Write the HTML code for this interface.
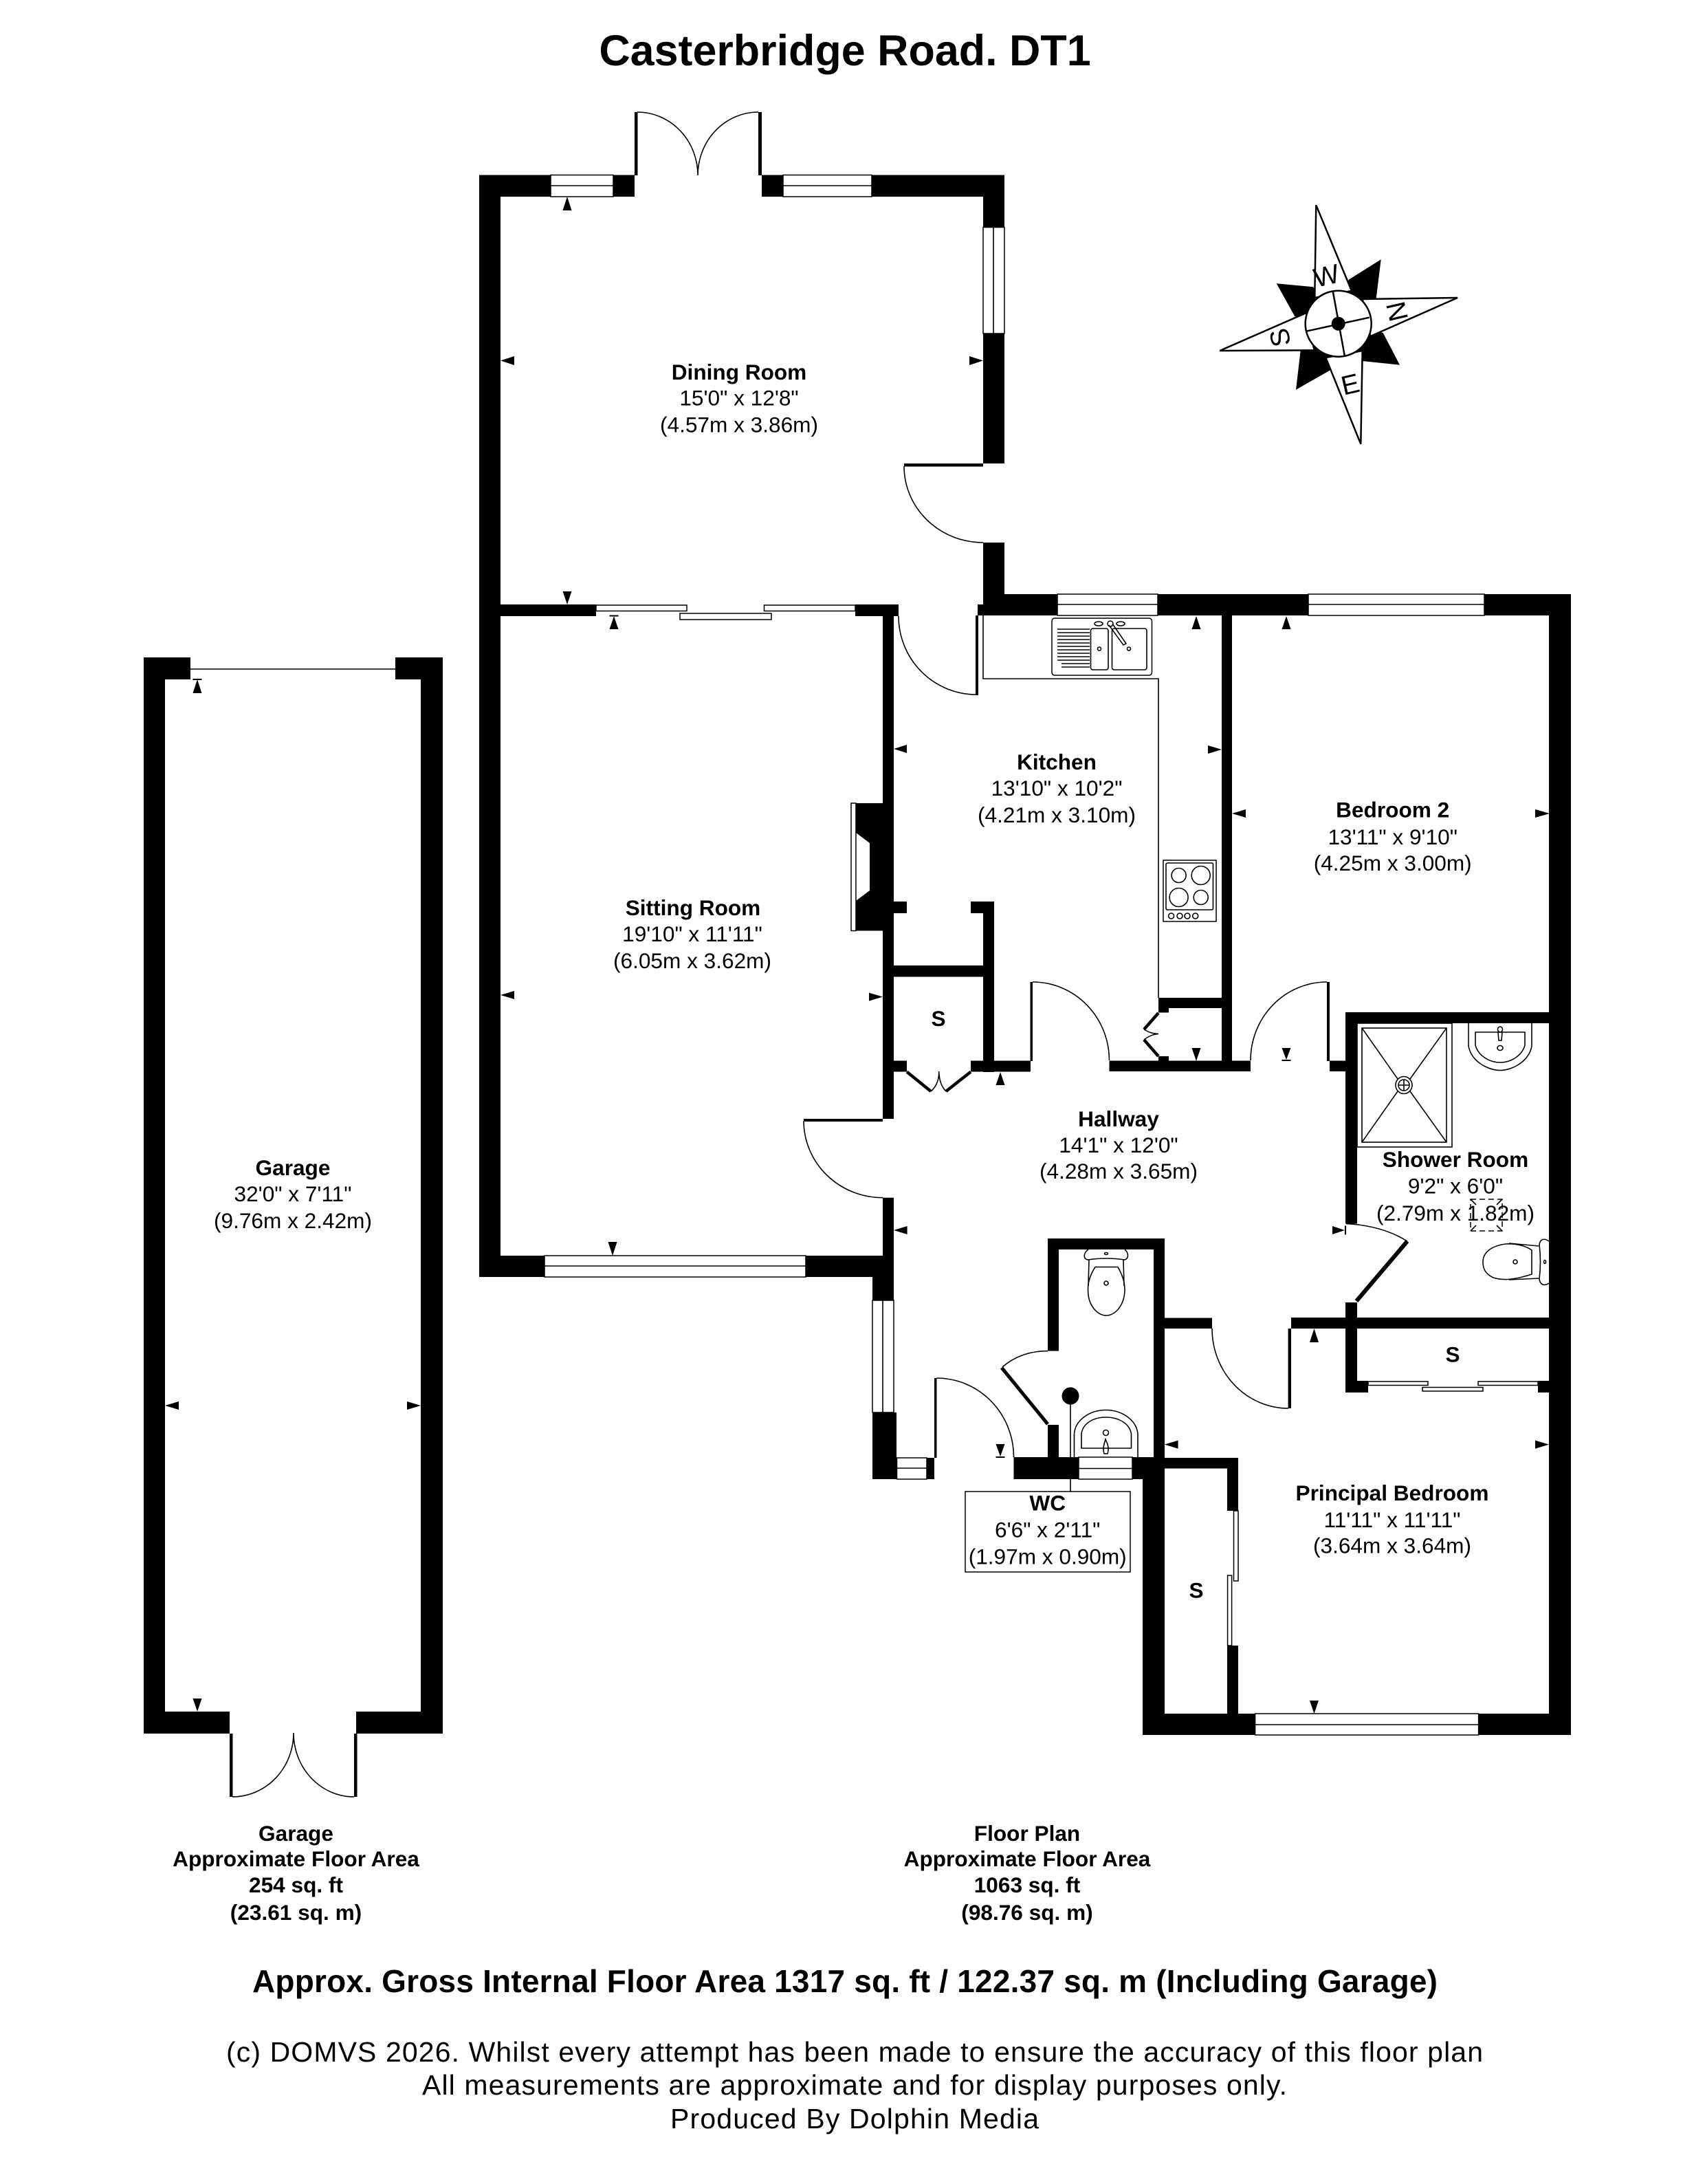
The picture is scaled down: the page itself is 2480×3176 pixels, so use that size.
<!DOCTYPE html>
<html><head><meta charset="utf-8"><style>
html,body{margin:0;padding:0;background:#fff}
svg{display:block}
text{font-family:"Liberation Sans",sans-serif;text-anchor:middle;fill:#000}
.l{font-size:31.6px}
.b{font-weight:bold}
.w{fill:#000;stroke:none}
.o{fill:#fff;stroke:#000;stroke-width:1.5}
.t{fill:none;stroke:#000;stroke-width:1.6}
</style></head><body>
<svg xmlns="http://www.w3.org/2000/svg" width="2480" height="3176" viewBox="0 0 2480 3176">
<rect width="2480" height="3176" fill="#fff"/>
<text x="1229" y="95" class="b" font-size="62.8">Casterbridge Road. DT1</text>

<!-- Garage -->
<g class="w">
<rect x="209" y="956" width="31" height="1565"/><rect x="209" y="956" width="68" height="32"/>
<rect x="612" y="956" width="32" height="1565"/><rect x="575" y="956" width="69" height="32"/>
<rect x="209" y="2489" width="125" height="32"/><rect x="518" y="2489" width="126" height="32"/>
<rect x="334" y="2521" width="4.5" height="92"/><rect x="515" y="2521" width="4.5" height="92"/>
</g>
<path class="t" d="M277,973H575M338,2613A89,93 0 0 0 427,2520M515,2613A88,93 0 0 1 427,2520"/>
<g class="w">
<polygon points="287,988 293.500,1008 280.500,1008"/><rect x="280.500" y="987" width="13" height="2"/>
<polygon points="287,2489 293.500,2470 280.500,2470"/>
<polygon points="240,2044 260,2038 260,2050"/><polygon points="612,2044 592,2038 592,2050"/>
</g>
<text class="l b" x="426" y="1709">Garage</text><text class="l" x="426" y="1747">32'0" x 7'11"</text><text class="l" x="426" y="1786">(9.76m x 2.42m)</text>

<!-- Main walls -->
<g class="w">
<rect x="697" y="254.500" width="31" height="1602.500"/>
<rect x="697" y="254.500" width="226" height="31.500"/>
<rect x="1108" y="254.500" width="353" height="31.500"/>
<rect x="1430" y="254.500" width="31" height="419.500"/>
<rect x="1315" y="674" width="115" height="4.500"/>
<rect x="1430" y="789" width="31" height="90"/>
<rect x="1422" y="879" width="40" height="16"/>
<rect x="1430" y="864" width="855" height="31"/>
<rect x="2253" y="864" width="32" height="1659"/>
<rect x="728" y="879" width="139" height="17"/>
<rect x="1244" y="879" width="63" height="17"/>
<rect x="1284" y="880" width="16" height="747"/>
<rect x="1169" y="1627" width="115" height="4"/>
<rect x="1284" y="1741.700" width="16" height="150"/>
<rect x="697" y="1826" width="95" height="31"/>
<rect x="1172" y="1826" width="128" height="31"/>
<rect x="1269" y="1857" width="31" height="34"/>
<rect x="1269" y="2054" width="35" height="97"/>
<rect x="1348" y="2120" width="11" height="31"/>
<rect x="1359" y="2004" width="3.500" height="116"/>
<polygon points="1245,1168 1284,1168 1284,1353.500 1245,1353.500 1245,1310 1265,1295 1265,1226 1245,1211"/>
<!-- cupboard -->
<rect x="1300" y="1311" width="19" height="17"/>
<rect x="1412" y="1311" width="34" height="17"/>
<rect x="1430" y="1311" width="16" height="248"/>
<rect x="1300" y="1404" width="130" height="16.500"/>
<rect x="1300" y="1542.500" width="19" height="16"/>
<rect x="1412" y="1542.500" width="87" height="16"/>
<rect x="1498.500" y="1428" width="3.500" height="115"/>
<!-- hall top wall -->
<rect x="1613.500" y="1542.500" width="205.500" height="15.500"/>
<rect x="1777" y="895" width="15" height="648"/>
<rect x="1685" y="1451" width="92" height="15"/>
<rect x="1685" y="1451" width="15" height="21.500"/>
<rect x="1685" y="1536" width="15" height="7"/>
<rect x="1930" y="1428" width="4" height="115"/>
<rect x="1934" y="1542.500" width="24" height="15.500"/>
<!-- shower -->
<rect x="1957" y="1472" width="296" height="16"/>
<rect x="1957" y="1472" width="17" height="307.500"/>
<rect x="1957" y="1894" width="17" height="131"/>
<rect x="1878" y="1916" width="375" height="16"/>
<rect x="1694" y="1916.500" width="69" height="15.500"/>
<rect x="1873.600" y="1932" width="4.400" height="116"/>
<rect x="1957" y="2008" width="33" height="17"/>
<rect x="2237" y="2008" width="16" height="17"/>
<!-- WC -->
<rect x="1524" y="1801" width="170" height="16"/>
<rect x="1524" y="1801" width="16" height="163.600"/>
<rect x="1678" y="1801" width="16" height="320"/>
<rect x="1524" y="2072" width="16" height="50"/>
<rect x="1474.500" y="2119" width="94.500" height="32"/>
<rect x="1647" y="2119" width="47" height="32"/>
<rect x="1662" y="2119" width="32" height="404"/>
<rect x="1694" y="2120" width="107" height="15.500"/>
<rect x="1785" y="2120" width="16" height="77"/>
<rect x="1785" y="2393" width="16" height="100"/>
<rect x="1662" y="2492" width="164" height="31"/>
<rect x="2150" y="2492" width="135" height="31"/>
</g>
<!-- bifold leaves & door leaves -->
<g fill="none" stroke="#000" stroke-width="4.500">
<path d="M1319,1558.600L1354,1587M1412,1558.600L1376,1587"/>
<path d="M1685,1473L1664,1497M1664,1512L1685,1536"/>
<path d="M1973,1892L2047,1805" stroke-width="6"/>
<path d="M1524,2071L1457,1989" stroke-width="5"/>
</g>
<path class="t" d="M1354,1587C1362,1580 1366,1570 1365.700,1558C1366,1570 1369,1580 1376,1587"/>
<path class="t" d="M1664,1497C1672,1502 1678,1503 1685,1503.500C1678,1504 1672,1506 1664,1512"/>
<!-- arcs -->
<path class="t" d="M927,163A88,92 0 0 1 1015,255M1103,163A88,92 0 0 0 1015,255"/>
<rect class="w" x="923" y="163" width="4.500" height="92"/><rect class="w" x="1103" y="163" width="5" height="92"/>
<path class="t" d="M1315,678A115,111 0 0 0 1430,789"/>
<path class="t" d="M1307,896A113,114 0 0 0 1420,1010"/>
<rect class="w" x="1419" y="895" width="4" height="116"/>
<path class="t" d="M1169,1630A115,112 0 0 0 1284,1741.700"/>
<path class="t" d="M1502,1428A111.500,114 0 0 1 1613.500,1542"/>
<path class="t" d="M1819,1542A111,114 0 0 1 1930,1428"/>
<path class="t" d="M1958,1779.500Q2010,1782 2047,1805"/>
<path class="t" d="M1763,1932A111,116 0 0 0 1874,2048"/>
<path class="t" d="M1362.500,2004A112,115 0 0 1 1474.500,2119"/>
<path class="t" d="M1524,1964.600Q1485,1964.600 1458,1988"/>

<!-- windows -->
<g class="o">
<rect x="801" y="254.500" width="91" height="31.500"/><rect x="1139" y="254.500" width="129" height="31.500"/>
<rect x="1430" y="330.500" width="31" height="154.500"/>
<rect x="1538" y="864" width="146" height="31"/><rect x="1903" y="864" width="256" height="31"/>
<rect x="792" y="1826" width="380" height="31"/>
<rect x="1269" y="1891" width="31" height="163"/>
<rect x="1304.500" y="2120" width="43.500" height="31"/>
<rect x="1569" y="2119" width="78" height="32"/>
<rect x="1825.600" y="2492" width="325" height="31"/>
<!-- sliding -->
<rect x="867" y="880" width="132" height="8.500"/><rect x="989" y="892" width="133" height="9"/><rect x="1111.500" y="880" width="132.500" height="8.500"/>
<rect x="1990" y="2009" width="87" height="5.500"/><rect x="2069" y="2017.500" width="88" height="5.500"/><rect x="2150" y="2009" width="87" height="5.500"/>
<rect x="1794.500" y="2197" width="6.500" height="102"/><rect x="1785.600" y="2291" width="6" height="102"/>
<rect x="1238" y="1168" width="7" height="185.500"/>
</g>
<path class="t" d="M801,270H892M1139,270H1268M1445,330.500V485M1538,879H1684M1903,879H2159M792,1841H1172M1284,1891V2054M1304.500,2135H1348M1569,2135.500H1647M1825.600,2508H2150.500"/>

<!-- Kitchen fittings -->
<path class="t" d="M1430,895V987H1685V1451"/>
<rect class="o" x="1530" y="899" width="145.500" height="83" rx="4"/>
<g class="t">
<rect x="1586.500" y="914" width="25.500" height="60" rx="3"/><rect x="1617.500" y="914" width="50.500" height="60" rx="3"/>
<path d="M1538,915H1585M1538,920H1585M1538,925H1585M1538,930H1585M1538,935H1585M1538,940H1585M1538,945H1585M1538,950H1585M1538,955H1585M1538,960H1585M1544,965H1585M1544,970H1585"/>
<circle cx="1599" cy="943.500" r="2.500"/><circle cx="1642" cy="943.500" r="2.500"/>
<circle cx="1615" cy="907" r="4"/><ellipse cx="1598" cy="907" rx="6" ry="3"/><ellipse cx="1630" cy="907" rx="6" ry="3"/>
<path d="M1613,909L1634,938L1638,936L1618,907"/>
</g>
<rect class="o" x="1692" y="1251" width="77" height="89"/>
<g class="t">
<rect x="1696" y="1255" width="68.500" height="68" rx="2"/>
<circle cx="1714.600" cy="1273" r="10.500"/><circle cx="1746.700" cy="1273" r="13.500"/><circle cx="1714.600" cy="1305" r="13.500"/><circle cx="1746.700" cy="1305" r="10.500"/>
<circle cx="1703.600" cy="1332" r="4"/><circle cx="1716" cy="1332" r="4"/><circle cx="1727" cy="1332" r="4"/><circle cx="1738.700" cy="1332" r="4"/>
</g>

<!-- Shower -->
<g class="t">
<rect x="1974" y="1488" width="138" height="180"/>
<rect x="1981" y="1495" width="123" height="166"/>
<path d="M1981,1495L2033,1569M2104,1495L2051,1569M1981,1661L2033,1587M2104,1661L2051,1587"/>
<ellipse cx="2042" cy="1578" rx="12" ry="12.500"/><ellipse cx="2042" cy="1578" rx="8" ry="8"/><path d="M2034,1578H2050M2042,1570V1586"/>
<path d="M2136,1488V1521C2140,1544 2165,1556.500 2182,1556.500C2199,1556.500 2224,1544 2228,1521V1488"/>
<path d="M2146,1501H2218V1520C2214,1535 2198,1545 2182,1545C2166,1545 2150,1535 2146,1520Z"/>
<ellipse cx="2182" cy="1524" rx="4" ry="3.500"/><ellipse cx="2182" cy="1497" rx="3.500" ry="4"/><path d="M2179,1501L2180,1513H2184L2185,1501"/>
<path d="M2253,1805C2246,1800 2240,1802 2239,1810Q2242,1835 2239,1860C2240,1868 2246,1871 2253,1866"/>
<path d="M2228,1818L2228,1853C2200,1862 2185,1862 2172,1858C2160,1852 2157,1845 2157,1835C2157,1822 2168,1812 2190,1809C2205,1808 2220,1812 2228,1818Z"/>
<path d="M2195,1808L2238,1812M2195,1861L2238,1859"/>
<circle cx="2204" cy="1835" r="3"/><ellipse cx="2247" cy="1835" rx="1.500" ry="2.500"/>
</g>

<!-- WC fittings -->
<g class="t">
<path d="M1583,1817C1576,1822 1575,1830 1582,1832Q1609,1828 1636,1832C1642,1830 1642,1822 1636,1817"/>
<path d="M1593,1842.500L1626,1842.500Q1636,1860 1636,1875C1636,1898 1622,1913 1609,1913C1596,1913 1582,1898 1582.600,1875Q1582,1860 1593,1842.500Z"/>
<path d="M1584,1832L1583,1870M1634,1832L1635,1870"/>
<ellipse cx="1609" cy="1823" rx="2.500" ry="1.500"/><circle cx="1609" cy="1866" r="3"/>
<path d="M1557,2041V2169"/>
<path d="M1562.500,2119V2085C1564,2065 1585,2050.500 1608.500,2050.500C1632,2050.500 1653,2065 1655,2085V2119"/>
<path d="M1573,2106V2085C1575,2070 1590,2061 1608.500,2061C1627,2061 1643,2070 1645.500,2085V2106Z"/>
<ellipse cx="1608.500" cy="2083.500" rx="4" ry="4"/><path d="M1606,2114Q1604,2108 1606,2100L1608,2093L1611,2100Q1613,2108 1611,2114Z"/>
</g>
<ellipse cx="1557" cy="2030" rx="12.500" ry="12.600" fill="#000"/>
<rect x="1404" y="2169" width="240" height="117" fill="#fff" stroke="#000" stroke-width="1.500"/>

<!-- Compass -->
<g>
<g fill="#000">
<polygon points="2008.700,377.300 1961.700,406.700 1946.700,470.700 2001.700,434"/><polygon points="2036,530.700 2011.700,484 1946.700,470.700 1981.700,525"/>
<polygon points="1885,566.700 1891.700,510 1946.700,470.700 1935,538.300"/><polygon points="1856.700,412.300 1910,417.300 1946.700,470.700 1883.300,460"/>
</g>
<g fill="#fff" stroke="#000" stroke-width="2.500">
<polygon points="1914.300,298.300 1912.300,433 1966,423"/><polygon points="2120,433 1981.700,435 1993.300,489"/>
<polygon points="1979.300,645.700 1981.700,510 1928.300,520"/><polygon points="1774.300,510 1911.700,509.300 1900,455"/>
<circle cx="1946.700" cy="470.700" r="48"/>
<path d="M1938.700,423.300L1956,518.300M1900,481.700L1991.700,461.700" fill="none"/>
</g>
<circle cx="1946.700" cy="470.700" r="10" fill="#000"/>
<text x="0" y="0" font-size="39" transform="translate(1932.300,414) rotate(-13)">W</text>
<text x="0" y="0" font-size="39" transform="translate(2019,456) rotate(77)">N</text>
<text x="0" y="0" font-size="39" transform="translate(1967,572) rotate(-13)">E</text>
<text x="0" y="0" font-size="39" transform="translate(1875,488) rotate(-103)">S</text>
</g>

<!-- arrowheads -->
<g class="w">
<polygon points="825,286 831.500,306 818.500,306"/><polygon points="728,524.400 748,518 748,531"/><polygon points="1430,524.400 1410,518 1410,531"/>
<polygon points="825,879 831.500,860 818.500,860"/>
<polygon points="893,896 899.500,915 886.500,915"/><rect x="886.500" y="894.500" width="13" height="2"/>
<polygon points="891,1826 897.500,1806 884.500,1806"/>
<polygon points="728,1447 748,1441 748,1453"/><polygon points="1284,1449.600 1264,1443.600 1264,1455.600"/>
<polygon points="1740,896 1746.500,915 1733.500,915"/><polygon points="1871,896 1877.500,915 1864.500,915"/>
<polygon points="1777,1090 1757,1084 1757,1096"/><polygon points="1300,1089 1319,1083 1319,1095"/>
<polygon points="1792,1183 1812,1177 1812,1189"/><polygon points="2254,1183 2233,1177 2233,1189"/>
<polygon points="1740,1543 1746.500,1524 1733.500,1524"/>
<polygon points="1871,1541 1877.500,1524 1864.500,1524"/><rect x="1864.500" y="1541" width="13" height="2"/>
<polygon points="1455,1559 1461.500,1578 1448.500,1578"/>
<polygon points="1300,1789 1319.600,1783 1319.600,1795"/>
<polygon points="1956,1789 1938,1783 1938,1795"/><rect x="1956" y="1782.500" width="2" height="13"/>
<polygon points="1455,2118 1461.500,2100 1448.500,2100"/><rect x="1448.500" y="2118" width="13" height="2"/>
<polygon points="1911.500,1932 1918,1952 1905,1952"/>
<polygon points="1694,2100.600 1713.600,2094.600 1713.600,2106.600"/><polygon points="2253,2100.600 2233,2094.600 2233,2106.600"/>
<polygon points="1911.500,2492 1918,2473 1905,2473"/>
</g>

<!-- labels -->
<text class="l b" x="1075" y="552">Dining Room</text><text class="l" x="1075" y="589.500">15'0" x 12'8"</text><text class="l" x="1075" y="628.500">(4.57m x 3.86m)</text>
<text class="l b" x="1008" y="1331">Sitting Room</text><text class="l" x="1007" y="1369">19'10" x 11'11"</text><text class="l" x="1007" y="1408">(6.05m x 3.62m)</text>
<text class="l b" x="1537" y="1119">Kitchen</text><text class="l" x="1537" y="1157">13'10" x 10'2"</text><text class="l" x="1537" y="1196">(4.21m x 3.10m)</text>
<text class="l b" x="2025.700" y="1188.500">Bedroom 2</text><text class="l" x="2025.700" y="1228">13'11" x 9'10"</text><text class="l" x="2025.700" y="1266">(4.25m x 3.00m)</text>
<text class="l b" x="1627" y="1638">Hallway</text><text class="l" x="1627" y="1676">14'1" x 12'0"</text><text class="l" x="1627" y="1714">(4.28m x 3.65m)</text>
<text class="l b" x="2117" y="1697">Shower Room</text><text class="l" x="2117" y="1735.500">9'2" x 6'0"</text><text class="l" x="2117" y="1775">(2.79m x 1.82m)</text>
<text class="l b" x="1523.700" y="2196.500">WC</text><text class="l" x="1523.700" y="2235.400">6'6" x 2'11"</text><text class="l" x="1523.700" y="2274.700">(1.97m x 0.90m)</text>
<text class="l b" x="2025" y="2182">Principal Bedroom</text><text class="l" x="2025" y="2221">11'11" x 11'11"</text><text class="l" x="2025" y="2258.600">(3.64m x 3.64m)</text>
<text class="l b" x="1365" y="1492">S</text><text class="l b" x="2113" y="1980.500">S</text><text class="l b" x="1740" y="2323.700">S</text>

<!-- dashed box over text -->
<rect x="2139" y="1744" width="46" height="46" fill="none" stroke="#000" stroke-width="1.500" stroke-dasharray="8 5"/>
<path class="t" d="M2139,1744L2147,1752M2185,1744L2177,1752M2139,1790L2147,1782M2185,1790L2177,1782"/>

<!-- footer -->
<text class="l b" x="430.500" y="2677" font-size="31.800">Garage</text><text class="l b" x="430.500" y="2714">Approximate Floor Area</text><text class="l b" x="430.500" y="2752">254 sq. ft</text><text class="l b" x="430.500" y="2792">(23.61 sq. m)</text>
<text class="l b" x="1494" y="2677">Floor Plan</text><text class="l b" x="1494" y="2714">Approximate Floor Area</text><text class="l b" x="1494" y="2752">1063 sq. ft</text><text class="l b" x="1494" y="2792">(98.76 sq. m)</text>
<text class="b" x="1229" y="2897" font-size="46" textLength="1724" lengthAdjust="spacing">Approx. Gross Internal Floor Area 1317 sq. ft / 122.37 sq. m (Including Garage)</text>
<text x="1243" y="2998" font-size="41" textLength="1828" lengthAdjust="spacing">(c) DOMVS 2026. Whilst every attempt has been made to ensure the accuracy of this floor plan</text>
<text x="1243" y="3046" font-size="41" textLength="1258" lengthAdjust="spacing">All measurements are approximate and for display purposes only.</text>
<text x="1243" y="3095" font-size="41" textLength="536" lengthAdjust="spacing">Produced By Dolphin Media</text>
</svg>
</body></html>
